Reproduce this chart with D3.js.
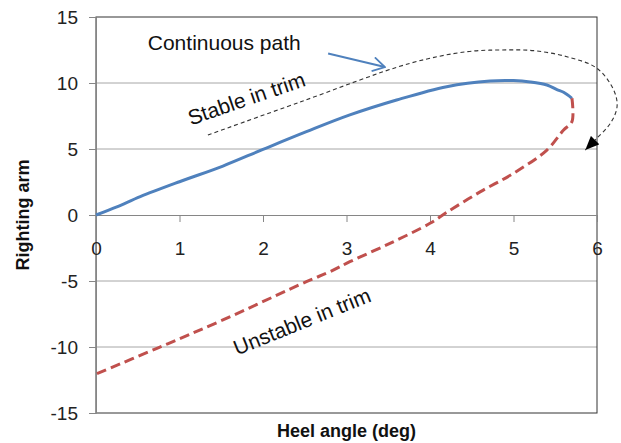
<!DOCTYPE html>
<html>
<head>
<meta charset="utf-8">
<script src="https://cdn.jsdelivr.net/npm/d3@7"></script>
<style>
  html, body { margin: 0; padding: 0; background: #fff; }
  svg { display: block; }
  text { font-family: "Liberation Sans", Arial, sans-serif; }
</style>
</head>
<body>
<svg id="chart" width="621" height="443"></svg>
<script>
// ---- data ----
const xTicks = [0, 1, 2, 3, 4, 5, 6];
const yTicks = [-15, -10, -5, 0, 5, 10, 15];

// Stable in trim (solid blue)
const stableX = [0, 0.25, 0.53, 1.0, 1.52, 2.0, 2.52, 3.04, 3.6, 4.2, 4.72, 5.0, 5.2, 5.4, 5.52, 5.6, 5.7];
const stableY = [0, 0.62, 1.39, 2.52, 3.71, 4.97, 6.31, 7.58, 8.71, 9.72, 10.15, 10.18, 10.08, 9.85, 9.5, 9.3, 8.84];

// Unstable in trim (dashed red)
const unstableX = [5.7, 5.7, 5.6, 5.4, 5.0, 4.6, 4.2, 4.0, 3.52, 3.04, 2.8, 2.52, 1.52, 0.73, 0];
const unstableY = [8.84, 7.07, 6.44, 4.92, 3.16, 1.75, 0.2, -0.63, -2.15, -3.54, -4.3, -5.05, -7.95, -10.1, -12.05];

// "Continuous path" annotation curve (data units)
const pathX = [1.34, 2.44, 3.76, 4.44, 4.84, 5.24, 5.64, 6.0, 6.2, 6.24, 6.16, 5.98, 5.86];
const pathY = [6.06, 8.55, 11.49, 12.37, 12.5, 12.45, 11.99, 11.11, 9.47, 8.2, 6.95, 5.7, 4.92];

// blue pointer arrow (data units)
const pointerX = [2.78, 3.46];
const pointerY = [12.24, 11.21];

const labels = [
  { text: "Continuous path", x: 0.62, y: 12.5, angle: 0, anchor: "start" },
  { text: "Stable in trim", x: 1.83, y: 8.3, angle: -19, anchor: "middle" },
  { text: "Unstable in trim", x: 2.5, y: -8.58, angle: -22, anchor: "middle" }
];

// ---- layout ----
const svg = d3.select("#chart");
const mLeft = 96, mRight = 597, mTop = 17, mBottom = 413;
const x = d3.scaleLinear().domain([0, 6]).range([mLeft, mRight]);
const y = d3.scaleLinear().domain([-15, 15]).range([mBottom, mTop]);

const defs = svg.append("defs");
defs.append("marker")
  .attr("id", "tri").attr("viewBox", "0 0 14 12")
  .attr("refX", 14).attr("refY", 6)
  .attr("markerWidth", 14).attr("markerHeight", 12)
  .attr("markerUnits", "userSpaceOnUse").attr("orient", "auto")
  .append("path").attr("d", "M0,0 L14,6 L0,12 Z").attr("fill", "#000");
defs.append("marker")
  .attr("id", "vee").attr("viewBox", "0 0 14 16")
  .attr("refX", 13).attr("refY", 8)
  .attr("markerWidth", 14).attr("markerHeight", 16)
  .attr("markerUnits", "userSpaceOnUse").attr("orient", "auto")
  .append("path").attr("d", "M1,1 L13,8 L1,15")
  .attr("fill", "none").attr("stroke", "#4F81BD").attr("stroke-width", 1.8);

// gridlines
svg.append("g")
  .selectAll("line")
  .data(yTicks.filter(v => v !== 0 && Math.abs(v) !== 15))
  .join("line")
  .attr("x1", mLeft).attr("x2", mRight)
  .attr("y1", d => y(d)).attr("y2", d => y(d))
  .attr("stroke", "#a6a6a6").attr("stroke-width", 1);

// plot border
svg.append("rect")
  .attr("x", mLeft).attr("y", mTop)
  .attr("width", mRight - mLeft).attr("height", mBottom - mTop)
  .attr("fill", "none").attr("stroke", "#333").attr("stroke-width", 1);

const fmt = d => String(d);

// y axis
const yAxis = d3.axisLeft(y).tickValues(yTicks).tickSize(7).tickPadding(11).tickFormat(fmt);
const gy = svg.append("g").attr("transform", `translate(${mLeft},0)`).call(yAxis);
gy.select(".domain").attr("stroke", "#868686");
gy.selectAll(".tick line").attr("stroke", "#868686");
gy.selectAll(".tick text")
  .attr("font-size", 19).attr("fill", "#222")
  .style("font-family", '"Liberation Sans", Arial, sans-serif');

// x axis at y=0
const xAxis = d3.axisBottom(x).tickValues(xTicks).tickSize(7).tickPadding(0).tickFormat(fmt);
const gx = svg.append("g").attr("transform", `translate(0,${y(0)})`).call(xAxis);
gx.select(".domain").attr("stroke", "#868686").attr("d", `M${mLeft},0.5H${mRight}`);
gx.selectAll(".tick line").attr("stroke", "#868686");
gx.selectAll(".tick text")
  .attr("font-size", 19).attr("fill", "#222").attr("dy", null).attr("y", 40)
  .style("font-family", '"Liberation Sans", Arial, sans-serif');

// series
const smooth = d3.line().x(d => x(d[0])).y(d => y(d[1])).curve(d3.curveCatmullRom.alpha(0.5));
svg.append("path")
  .datum(stableX.map((v, i) => [v, stableY[i]]))
  .attr("d", smooth)
  .attr("fill", "none").attr("stroke", "#4F81BD").attr("stroke-width", 3)
  .attr("stroke-linejoin", "round");
svg.append("path")
  .datum(unstableX.map((v, i) => [v, unstableY[i]]))
  .attr("d", smooth)
  .attr("fill", "none").attr("stroke", "#C0504D").attr("stroke-width", 3)
  .attr("stroke-dasharray", "10,5");

// annotation: continuous path
svg.append("path")
  .datum(pathX.map((v, i) => [v, pathY[i]]))
  .attr("d", smooth)
  .attr("fill", "none").attr("stroke", "#333").attr("stroke-width", 1.1)
  .attr("stroke-dasharray", "4,3")
  .attr("marker-end", "url(#tri)");

const line = d3.line().x(d => x(d[0])).y(d => y(d[1]));
svg.append("path")
  .datum(pointerX.map((v, i) => [v, pointerY[i]]))
  .attr("d", line)
  .attr("fill", "none").attr("stroke", "#4F81BD").attr("stroke-width", 2)
  .attr("marker-end", "url(#vee)");

// text labels
svg.append("g")
  .selectAll("text")
  .data(labels)
  .join("text")
  .attr("transform", d => `translate(${x(d.x)},${y(d.y)}) rotate(${d.angle})`)
  .attr("text-anchor", d => d.anchor)
  .attr("font-size", 21)
  .attr("fill", "#111")
  .text(d => d.text);

// axis titles
svg.append("text")
  .attr("transform", `translate(29,${y(0)}) rotate(-90)`)
  .attr("text-anchor", "middle")
  .attr("font-size", 18).attr("font-weight", "bold").attr("fill", "#111")
  .text("Righting arm");
svg.append("text")
  .attr("x", (mLeft + mRight) / 2).attr("y", 437)
  .attr("text-anchor", "middle")
  .attr("font-size", 18).attr("font-weight", "bold").attr("fill", "#111")
  .text("Heel angle (deg)");
</script>
</body>
</html>
